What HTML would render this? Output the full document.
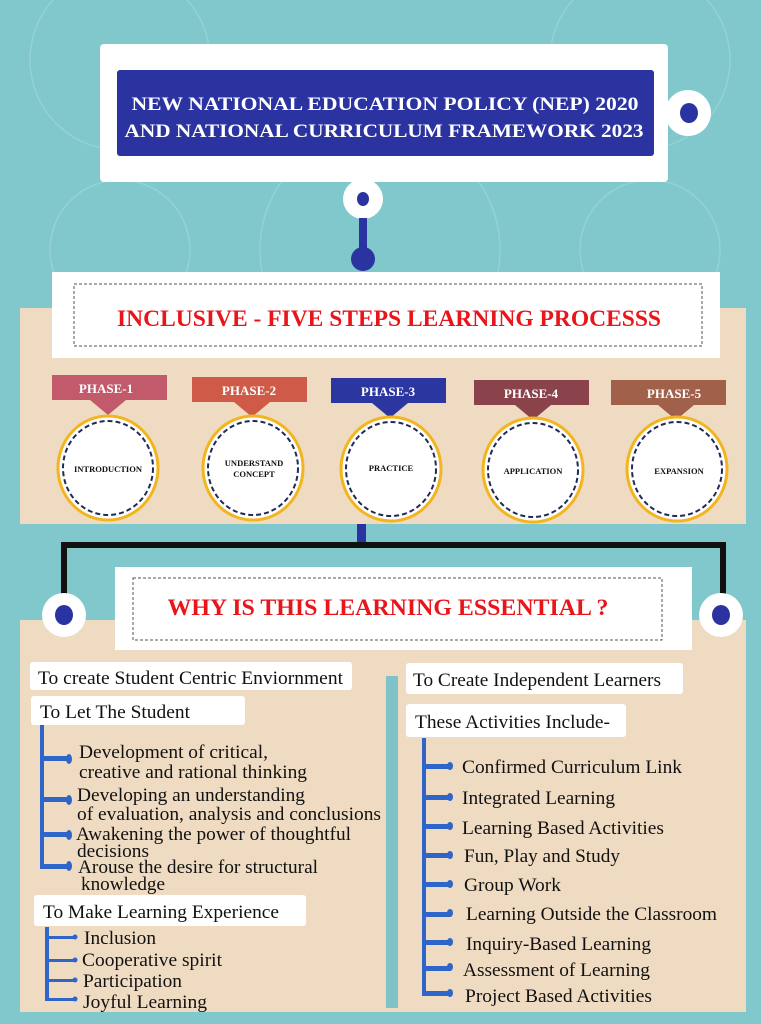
<!DOCTYPE html>
<html><head><meta charset="utf-8"><style>
html,body{margin:0;padding:0;background:#80c8cc;}
svg{display:block}
text{font-family:"Liberation Serif",serif;}
.t{font-size:19px;fill:#111;}
.h{font-weight:bold;}
</style></head><body>
<svg width="761" height="1024" viewBox="0 0 761 1024" xmlns="http://www.w3.org/2000/svg">
<rect width="761" height="1024" fill="#80c8cc"/>
<g fill="none" stroke="#a9dcdc" stroke-width="1.5" opacity="0.5">
<circle cx="120" cy="60" r="90"/><circle cx="640" cy="60" r="90"/><circle cx="380" cy="250" r="120"/>
<circle cx="120" cy="250" r="70"/><circle cx="650" cy="250" r="70"/>
</g>
<!-- top box -->
<rect x="100" y="44" width="568" height="138" rx="4" fill="#fff"/>
<rect x="117" y="70" width="537" height="86" rx="3" fill="#2b33a0"/>
<text x="385" y="110" text-anchor="middle" class="h" font-size="19" fill="#fff" textLength="507" lengthAdjust="spacingAndGlyphs">NEW NATIONAL EDUCATION POLICY (NEP) 2020</text>
<text x="384" y="137" text-anchor="middle" class="h" font-size="19" fill="#fff" textLength="519" lengthAdjust="spacingAndGlyphs">AND NATIONAL CURRICULUM FRAMEWORK 2023</text>
<circle cx="688" cy="113" r="23" fill="#fff"/><ellipse cx="689" cy="113" rx="9" ry="10" fill="#2b33a0"/>
<circle cx="363" cy="199" r="20" fill="#fff"/><ellipse cx="363" cy="199" rx="6" ry="7" fill="#2b33a0"/>
<rect x="359" y="218" width="8" height="40" fill="#2b33a0"/>
<ellipse cx="363" cy="259" rx="12" ry="12" fill="#2b33a0"/>
<!-- panel 1 -->
<rect x="20" y="308" width="726" height="216" fill="#eedbc2"/>
<rect x="52" y="272" width="668" height="86" fill="#fff"/>
<rect x="74" y="284" width="628" height="62" fill="none" stroke="#555" stroke-width="1" stroke-dasharray="3,2"/>
<text x="389" y="326" text-anchor="middle" class="h" font-size="23" fill="#e8161b" textLength="544" lengthAdjust="spacingAndGlyphs">INCLUSIVE - FIVE STEPS LEARNING PROCESSS</text>
<!-- phases -->
<g>
<rect x="52" y="375" width="115" height="25" fill="#c25a6b"/><polygon points="90,400 126,400 108,415" fill="#c25a6b"/>
<text x="106" y="393" text-anchor="middle" class="h" font-size="13" fill="#fff">PHASE-1</text>
<rect x="192" y="377" width="115" height="25" fill="#cf5a47"/><polygon points="234,402 270,402 252,417" fill="#cf5a47"/>
<text x="249" y="395" text-anchor="middle" class="h" font-size="13" fill="#fff">PHASE-2</text>
<rect x="331" y="378" width="115" height="25" fill="#2b36a0"/><polygon points="372,403 408,403 390,418" fill="#2b36a0"/>
<text x="388" y="396" text-anchor="middle" class="h" font-size="13" fill="#fff">PHASE-3</text>
<rect x="474" y="380" width="115" height="25" fill="#8a434b"/><polygon points="515,405 551,405 533,420" fill="#8a434b"/>
<text x="531" y="398" text-anchor="middle" class="h" font-size="13" fill="#fff">PHASE-4</text>
<rect x="611" y="380" width="115" height="25" fill="#a0604a"/><polygon points="658,405 694,405 676,420" fill="#a0604a"/>
<text x="674" y="398" text-anchor="middle" class="h" font-size="13" fill="#fff">PHASE-5</text>
</g>
<g fill="#fff" stroke="#f3b51e" stroke-width="3">
<ellipse cx="108" cy="468" rx="50" ry="52"/><ellipse cx="253" cy="468" rx="50" ry="52"/>
<ellipse cx="391" cy="469" rx="50" ry="52"/><ellipse cx="533" cy="470" rx="50" ry="52"/>
<ellipse cx="677" cy="469" rx="50" ry="52"/>
</g>
<g fill="none" stroke="#1e2a5a" stroke-width="2" stroke-dasharray="5,3">
<ellipse cx="108" cy="468" rx="45" ry="47"/><ellipse cx="253" cy="468" rx="45" ry="47"/>
<ellipse cx="391" cy="469" rx="45" ry="47"/><ellipse cx="533" cy="470" rx="45" ry="47"/>
<ellipse cx="677" cy="469" rx="45" ry="47"/>
</g>
<g class="h" font-size="8.5" fill="#111" text-anchor="middle">
<text x="108" y="472">INTRODUCTION</text>
<text x="254" y="466">UNDERSTAND</text><text x="254" y="477">CONCEPT</text>
<text x="391" y="471">PRACTICE</text>
<text x="533" y="474">APPLICATION</text>
<text x="679" y="474">EXPANSION</text>
</g>
<!-- connectors -->
<rect x="357" y="524" width="9" height="22" fill="#2b33a0"/>
<rect x="61" y="542" width="665" height="6" fill="#111"/>
<rect x="61" y="542" width="6" height="60" fill="#111"/>
<rect x="720" y="542" width="6" height="60" fill="#111"/>
<!-- panel 2 -->
<rect x="20" y="620" width="726" height="392" fill="#eedbc2"/>
<rect x="115" y="567" width="577" height="83" fill="#fff"/>
<rect x="133" y="578" width="529" height="62" fill="none" stroke="#555" stroke-width="1" stroke-dasharray="3,2"/>
<text x="388" y="615" text-anchor="middle" class="h" font-size="23" fill="#e8161b" textLength="441" lengthAdjust="spacingAndGlyphs">WHY IS THIS LEARNING ESSENTIAL ?</text>
<circle cx="64" cy="615" r="22" fill="#fff"/><ellipse cx="64" cy="615" rx="9" ry="10" fill="#2b33a0"/>
<circle cx="721" cy="615" r="22" fill="#fff"/><ellipse cx="721" cy="615" rx="9" ry="10" fill="#2b33a0"/>
<rect x="386" y="676" width="12" height="332" fill="#7fc3c8"/>
<!-- left column -->
<rect x="30" y="662" width="322" height="28" rx="3" fill="#fff"/>
<text x="38" y="684" class="t" textLength="305" lengthAdjust="spacingAndGlyphs">To create Student Centric Enviornment</text>
<rect x="31" y="696" width="214" height="29" rx="3" fill="#fff"/>
<text x="40" y="718" class="t" textLength="150" lengthAdjust="spacingAndGlyphs">To Let The Student</text>
<g fill="#2f64c8">
<rect x="40" y="725" width="4" height="144"/>
<rect x="40" y="756" width="28" height="5"/><ellipse cx="69" cy="759" rx="3" ry="5"/>
<rect x="40" y="797" width="28" height="5"/><ellipse cx="69" cy="800" rx="3" ry="5"/>
<rect x="40" y="832" width="28" height="5"/><ellipse cx="69" cy="835" rx="3" ry="5"/>
<rect x="40" y="864" width="28" height="5"/><ellipse cx="69" cy="866" rx="3" ry="5"/>
</g>
<text x="79" y="758" class="t" textLength="189" lengthAdjust="spacingAndGlyphs">Development of critical,</text>
<text x="79" y="778" class="t" textLength="228" lengthAdjust="spacingAndGlyphs">creative and rational thinking</text>
<text x="77" y="801" class="t" textLength="228" lengthAdjust="spacingAndGlyphs">Developing an understanding</text>
<text x="77" y="820" class="t" textLength="304" lengthAdjust="spacingAndGlyphs">of evaluation, analysis and conclusions</text>
<text x="76" y="840" class="t" textLength="275" lengthAdjust="spacingAndGlyphs">Awakening the power of thoughtful</text>
<text x="77" y="857" class="t" textLength="72" lengthAdjust="spacingAndGlyphs">decisions</text>
<text x="78" y="873" class="t" textLength="240" lengthAdjust="spacingAndGlyphs">Arouse the desire for structural</text>
<text x="81" y="890" class="t" textLength="84" lengthAdjust="spacingAndGlyphs">knowledge</text>
<rect x="34" y="895" width="272" height="31" rx="3" fill="#fff"/>
<text x="43" y="918" class="t" textLength="236" lengthAdjust="spacingAndGlyphs">To Make Learning Experience</text>
<g fill="#2f64c8">
<rect x="45" y="927" width="4" height="74"/>
<rect x="45" y="936" width="30" height="3"/><circle cx="75" cy="937" r="2.5"/>
<rect x="45" y="959" width="30" height="3"/><circle cx="75" cy="960" r="2.5"/>
<rect x="45" y="979" width="30" height="3"/><circle cx="75" cy="980" r="2.5"/>
<rect x="45" y="998" width="30" height="3"/><circle cx="75" cy="999" r="2.5"/>
</g>
<text x="84" y="944" class="t" textLength="72" lengthAdjust="spacingAndGlyphs">Inclusion</text>
<text x="82" y="966" class="t" textLength="140" lengthAdjust="spacingAndGlyphs">Cooperative spirit</text>
<text x="83" y="987" class="t" textLength="99" lengthAdjust="spacingAndGlyphs">Participation</text>
<text x="83" y="1008" class="t" textLength="124" lengthAdjust="spacingAndGlyphs">Joyful Learning</text>
<!-- right column -->
<rect x="406" y="663" width="277" height="31" rx="3" fill="#fff"/>
<text x="413" y="686" class="t" textLength="248" lengthAdjust="spacingAndGlyphs">To Create Independent Learners</text>
<rect x="406" y="704" width="220" height="33" rx="3" fill="#fff"/>
<text x="415" y="728" class="t" textLength="195" lengthAdjust="spacingAndGlyphs">These Activities Include-</text>
<g fill="#2f64c8">
<rect x="422" y="738" width="4" height="258"/>
<rect x="422" y="764" width="28" height="5"/><ellipse cx="450" cy="766" rx="3" ry="4"/>
<rect x="422" y="795" width="28" height="5"/><ellipse cx="450" cy="797" rx="3" ry="4"/>
<rect x="422" y="824" width="28" height="5"/><ellipse cx="450" cy="826" rx="3" ry="4"/>
<rect x="422" y="853" width="28" height="5"/><ellipse cx="450" cy="855" rx="3" ry="4"/>
<rect x="422" y="882" width="28" height="5"/><ellipse cx="450" cy="884" rx="3" ry="4"/>
<rect x="422" y="912" width="28" height="5"/><ellipse cx="450" cy="913" rx="3" ry="4"/>
<rect x="422" y="940" width="28" height="5"/><ellipse cx="450" cy="942" rx="3" ry="4"/>
<rect x="422" y="966" width="28" height="5"/><ellipse cx="450" cy="967" rx="3" ry="4"/>
<rect x="422" y="991" width="28" height="5"/><ellipse cx="450" cy="993" rx="3" ry="4"/>
</g>
<text x="462" y="773" class="t" textLength="220" lengthAdjust="spacingAndGlyphs">Confirmed Curriculum Link</text>
<text x="462" y="804" class="t" textLength="153" lengthAdjust="spacingAndGlyphs">Integrated Learning</text>
<text x="462" y="834" class="t" textLength="202" lengthAdjust="spacingAndGlyphs">Learning Based Activities</text>
<text x="464" y="862" class="t" textLength="156" lengthAdjust="spacingAndGlyphs">Fun, Play and Study</text>
<text x="464" y="891" class="t" textLength="97" lengthAdjust="spacingAndGlyphs">Group Work</text>
<text x="466" y="920" class="t" textLength="251" lengthAdjust="spacingAndGlyphs">Learning Outside the Classroom</text>
<text x="466" y="950" class="t" textLength="185" lengthAdjust="spacingAndGlyphs">Inquiry-Based Learning</text>
<text x="463" y="976" class="t" textLength="187" lengthAdjust="spacingAndGlyphs">Assessment of Learning</text>
<text x="465" y="1002" class="t" textLength="187" lengthAdjust="spacingAndGlyphs">Project Based Activities</text>
</svg>
</body></html>
